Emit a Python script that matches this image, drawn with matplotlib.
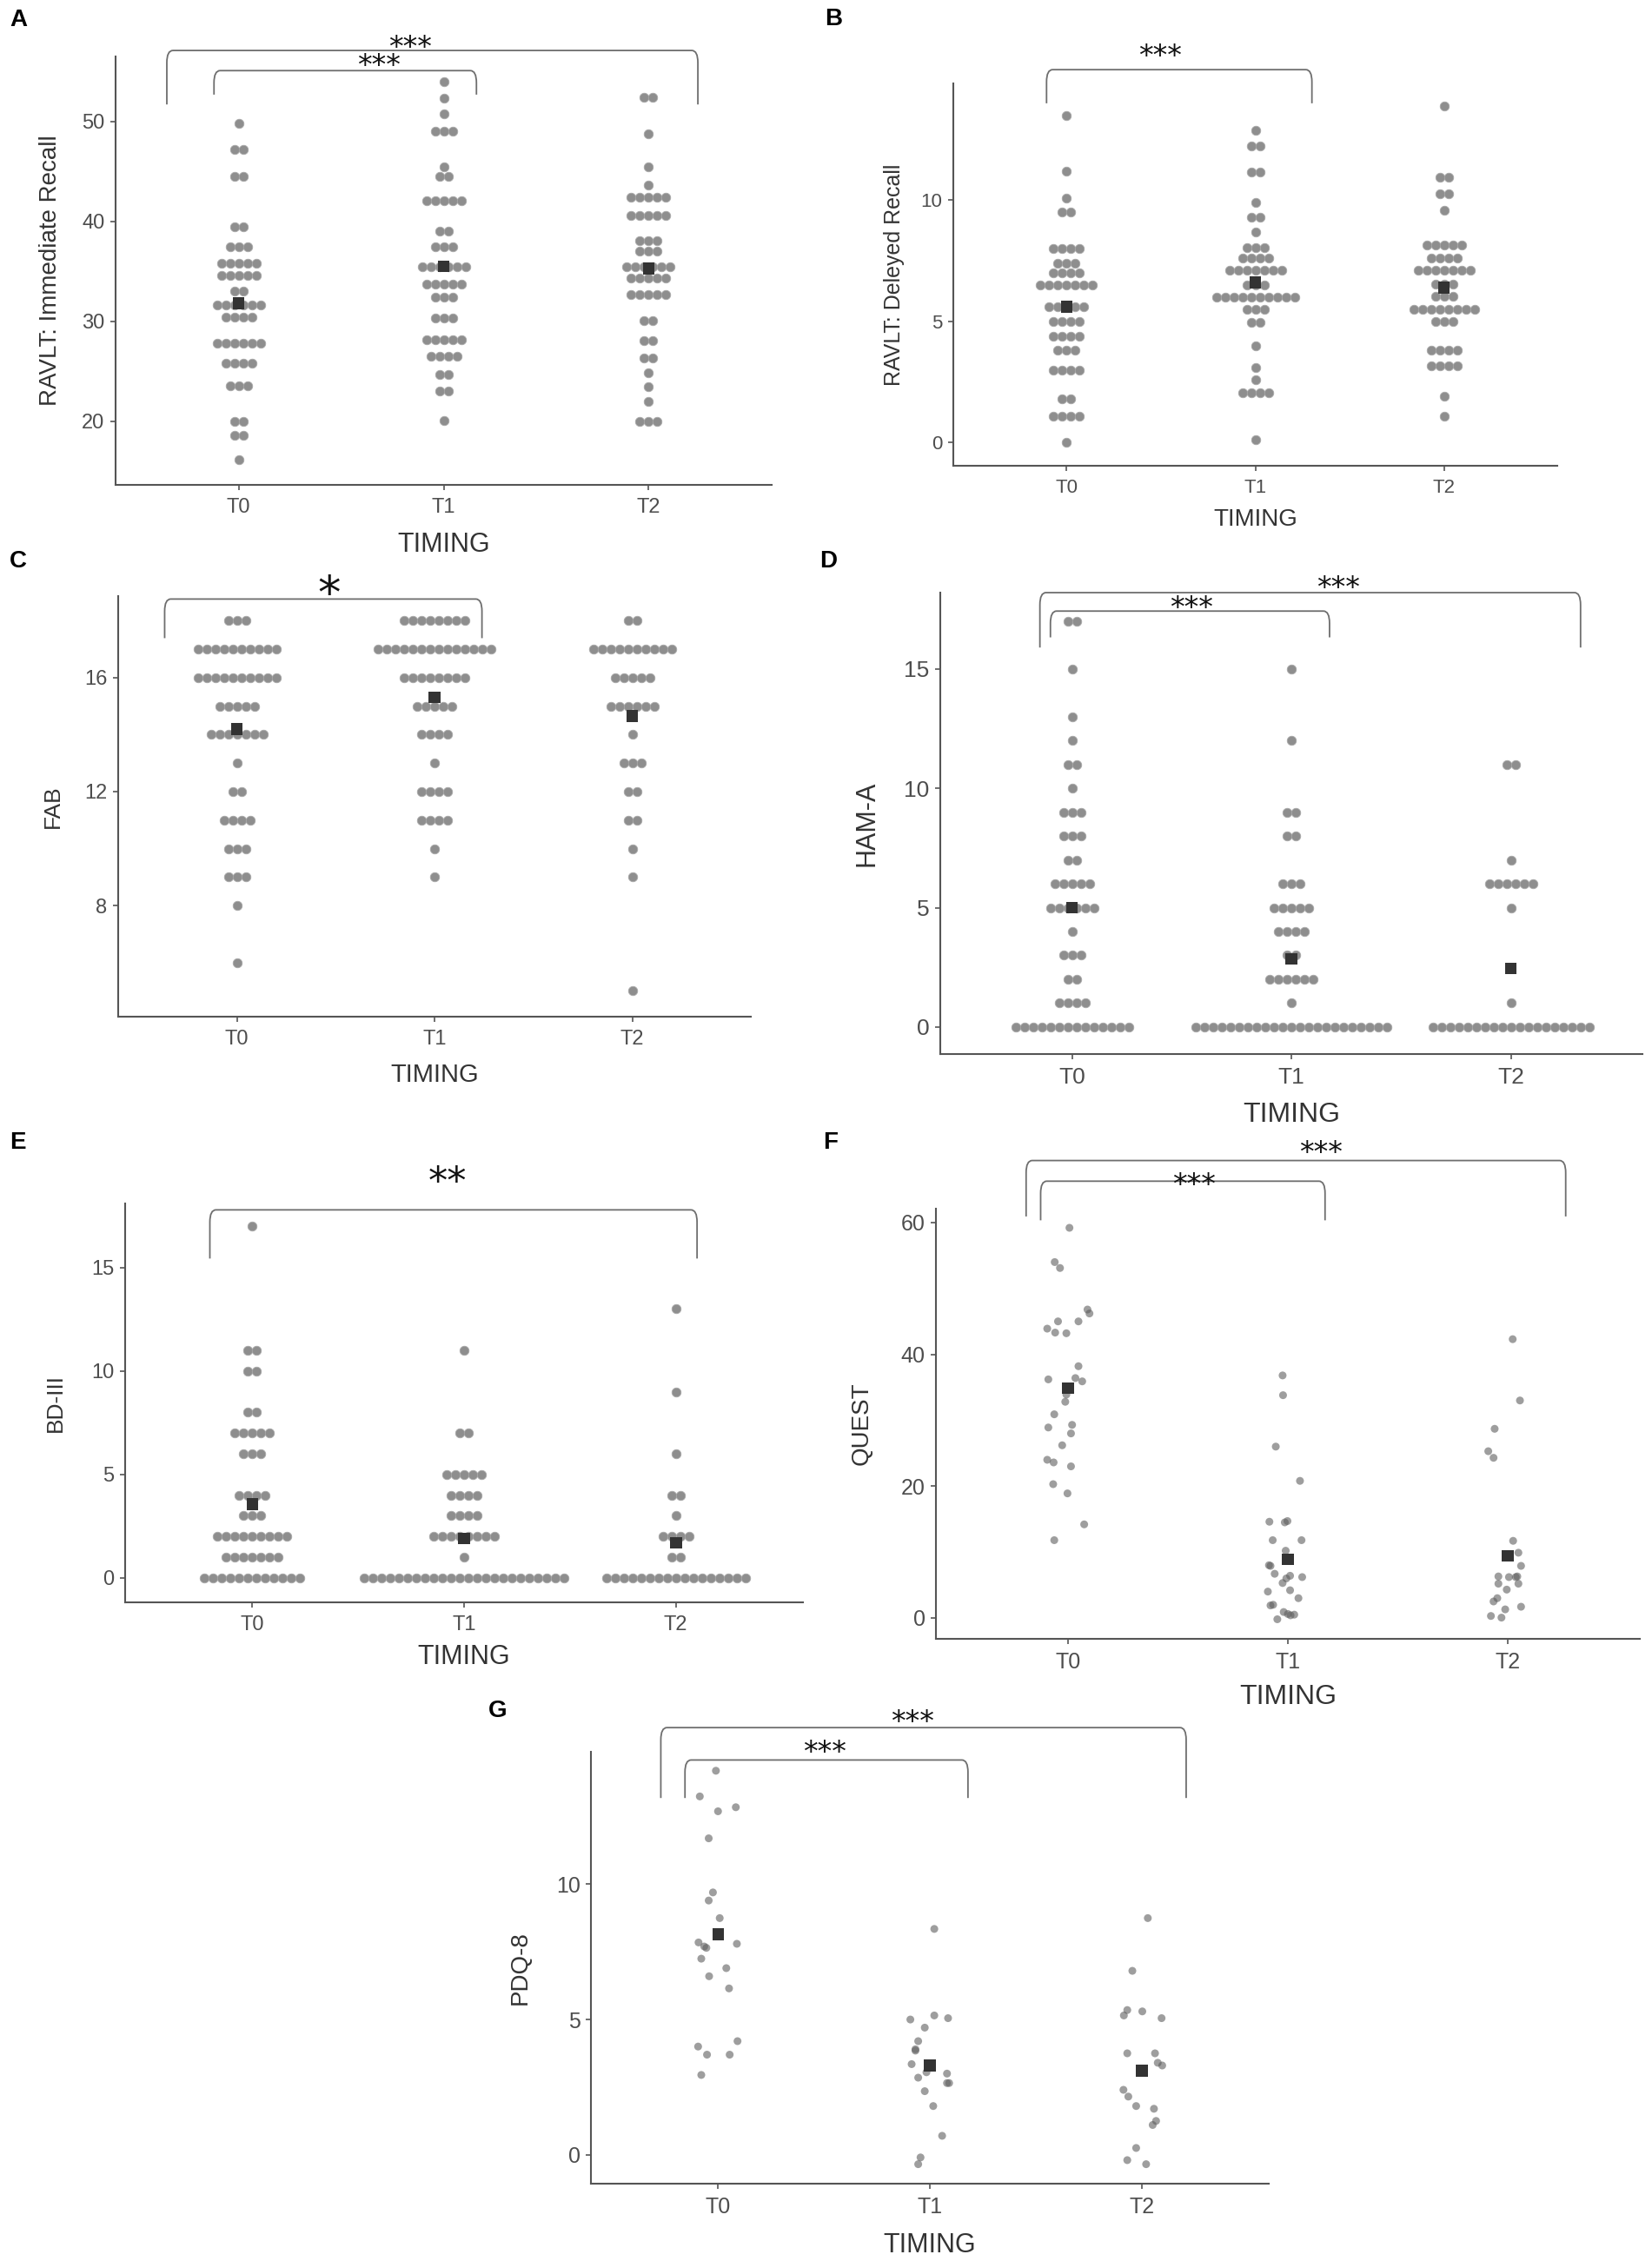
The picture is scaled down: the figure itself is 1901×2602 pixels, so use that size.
#!/usr/bin/env python3
"""
Seven-panel dot plots of neuropsychological scores across timings T0/T1/T2,
with group means (squares) and significance brackets.
"""

import numpy as np
import matplotlib
matplotlib.use("Agg")
import matplotlib.pyplot as plt
import matplotlib.transforms as mtransforms
from matplotlib.path import Path
from matplotlib.patches import PathPatch

GROUPS = ["T0", "T1", "T2"]

# ---- A: RAVLT immediate recall (stacked dot plot: level, count) ----
RAVLT_IR_LEVELS = [
    [49.8, 47.2, 44.5, 39.5, 37.5, 35.8, 34.6, 33.0, 31.6, 30.4, 27.8, 25.8, 23.6, 20.0, 18.6, 16.2],
    [54.0, 52.3, 50.8, 49.0, 45.5, 44.5, 42.1, 39.0, 37.5, 35.5, 33.7, 32.4, 30.3, 28.2, 26.5, 24.7, 23.0, 20.1],
    [52.4, 48.8, 45.5, 43.6, 42.4, 40.6, 38.1, 37.0, 35.5, 34.3, 32.7, 30.1, 28.1, 26.3, 24.9, 23.5, 22.0, 20.0],
]
RAVLT_IR_COUNTS = [
    [1, 2, 2, 2, 3, 5, 5, 2, 6, 4, 6, 4, 3, 2, 2, 1],
    [1, 1, 1, 3, 1, 2, 5, 2, 3, 6, 5, 3, 3, 5, 4, 2, 2, 1],
    [2, 1, 1, 1, 5, 5, 3, 3, 6, 5, 5, 2, 2, 2, 1, 1, 1, 3],
]
RAVLT_IR_MEANS = [31.8, 35.5, 35.3]

# ---- B: RAVLT delayed recall ----
RAVLT_DR_LEVELS = [
    [13.5, 11.2, 10.1, 9.5, 8.0, 7.4, 7.0, 6.5, 5.6, 5.0, 4.4, 3.8, 3.0, 1.8, 1.1, 0.0],
    [12.9, 12.25, 11.15, 9.9, 9.3, 8.7, 8.05, 7.6, 7.1, 6.5, 6.0, 5.5, 4.95, 4.0, 3.1, 2.6, 2.05, 0.1],
    [13.9, 10.95, 10.25, 9.6, 8.15, 7.6, 7.1, 6.55, 6.05, 5.5, 5.0, 3.8, 3.15, 1.9, 1.1],
]
RAVLT_DR_COUNTS = [
    [1, 1, 1, 2, 4, 3, 4, 7, 5, 4, 4, 3, 4, 2, 4, 1],
    [1, 2, 2, 1, 2, 1, 3, 4, 7, 3, 10, 3, 2, 1, 1, 1, 4, 1],
    [1, 2, 2, 1, 5, 4, 7, 3, 3, 8, 3, 4, 4, 1, 1],
]
RAVLT_DR_MEANS = [5.6, 6.6, 6.4]

# ---- C: FAB ----
FAB_LEVELS = [
    [18, 17, 16, 15, 14, 13, 12, 11, 10, 9, 8, 6],
    [18, 17, 16, 15, 14, 13, 12, 11, 10, 9],
    [18, 17, 16, 15, 14, 13, 12, 11, 10, 9, 5],
]
FAB_COUNTS = [
    [3, 10, 10, 5, 7, 1, 2, 4, 3, 3, 1, 1],
    [8, 14, 8, 5, 4, 1, 4, 4, 1, 1],
    [2, 10, 5, 6, 1, 3, 2, 2, 1, 1, 1],
]
FAB_MEANS = [14.2, 15.3, 14.65]

# ---- D: HAM-A ----
HAMA_LEVELS = [
    [17, 15, 13, 12, 11, 10, 9, 8, 7, 6, 5, 4, 3, 2, 1, 0],
    [15, 12, 9, 8, 6, 5, 4, 3, 2, 1, 0],
    [11, 7, 6, 5, 1, 0],
]
HAMA_COUNTS = [
    [2, 1, 1, 1, 2, 1, 3, 3, 2, 5, 6, 1, 3, 2, 4, 14],
    [1, 1, 2, 2, 3, 5, 4, 2, 6, 1, 23],
    [2, 1, 6, 1, 1, 19],
]
HAMA_MEANS = [5.0, 2.85, 2.45]

# ---- E: BDI-II ----
BDI_LEVELS = [
    [17, 11, 10, 8, 7, 6, 4, 3, 2, 1, 0],
    [11, 7, 5, 4, 3, 2, 1, 0],
    [13, 9, 6, 4, 3, 2, 1, 0],
]
BDI_COUNTS = [
    [1, 2, 2, 2, 5, 3, 4, 3, 9, 7, 12],
    [1, 2, 5, 4, 4, 8, 1, 24],
    [1, 1, 1, 2, 1, 4, 2, 17],
]
BDI_MEANS = [3.55, 1.9, 1.68]

# ---- F: QUEST (jittered points: value and horizontal jitter) ----
QUEST_VALUES = [
    [59.2, 54.0, 53.1, 46.8, 46.2, 45.0, 45.0, 43.9, 43.3, 43.2, 38.2, 36.2, 36.4, 35.9,
     33.9, 32.8, 30.9, 29.3, 28.9, 28.0, 26.2, 24.0, 23.6, 23.0, 20.3, 18.9, 14.2, 11.8],
    [36.8, 33.8, 26.0, 20.8, 14.6, 14.5, 14.7, 11.8, 11.8, 10.2, 8.0, 7.9, 6.7, 6.4,
     6.2, 5.3, 6.0, 4.0, 4.2, 3.0, 1.9, 2.0, 0.9, 0.4, 0.5, -0.2, 0.6],
    [42.3, 33.0, 28.7, 25.3, 24.3, 11.7, 9.9, 7.9, 6.3, 6.2, 6.3, 5.2, 5.2, 4.3,
     3.0, 2.5, 1.3, 1.7, 0.3, 0.05, 6.2],
]
QUEST_JITTER = [
    [0.007, -0.06, -0.036, 0.089, 0.098, -0.045, 0.048, -0.094, -0.058, -0.007, 0.048, -0.089, 0.034, 0.065,
     -0.007, -0.012, -0.062, 0.019, -0.089, 0.014, -0.026, -0.094, -0.065, 0.014, -0.067, -0.002, 0.074, -0.062],
    [-0.024, -0.022, -0.055, 0.055, -0.084, -0.014, -0.002, -0.069, 0.062, -0.01, -0.086, -0.079, -0.06, 0.01,
     0.065, -0.024, -0.007, -0.091, 0.01, 0.048, -0.079, -0.067, -0.019, 0.012, 0.029, -0.048, 0.0],
    [0.022, 0.055, -0.06, -0.089, -0.065, 0.024, 0.048, 0.06, -0.043, 0.005, 0.043, -0.043, 0.048, -0.005,
     -0.048, -0.065, -0.012, 0.06, -0.077, -0.029, 0.036],
]
QUEST_MEANS = [34.9, 8.9, 9.4]

# ---- G: PDQ-8 ----
PDQ8_VALUES = [
    [14.2, 13.25, 12.7, 12.85, 11.7, 9.7, 9.4, 8.75, 7.85, 7.65, 7.8, 7.25, 6.9, 6.6,
     6.15, 4.2, 4.0, 3.7, 3.7, 2.95, 7.7],
    [8.35, 5.0, 5.15, 5.05, 4.7, 4.2, 3.9, 3.85, 3.35, 3.05, 3.0, 2.85, 2.65, 2.65,
     2.35, 1.8, 0.7, -0.1, -0.35],
    [8.75, 6.8, 5.35, 5.15, 5.3, 5.05, 3.75, 3.75, 3.4, 3.3, 2.4, 2.15, 1.8, 1.7,
     1.25, 1.1, 0.25, -0.2, -0.35],
]
PDQ8_JITTER = [
    [-0.01, -0.086, 0.0, 0.084, -0.044, -0.024, -0.044, 0.008, -0.092, -0.055, 0.089, -0.079, 0.039, -0.042,
     0.052, 0.092, -0.094, -0.052, 0.055, -0.079, -0.065],
    [0.021, -0.092, 0.021, 0.086, -0.024, -0.055, -0.068, -0.068, -0.086, -0.016, 0.081, -0.055, 0.081, 0.091,
     -0.024, 0.016, 0.058, -0.044, -0.055],
    [0.029, -0.044, -0.068, -0.084, 0.003, 0.094, -0.068, 0.063, 0.076, 0.097, -0.086, -0.063, -0.026, 0.058,
     0.068, 0.052, -0.026, -0.068, 0.021],
]
PDQ8_MEANS = [8.15, 3.3, 3.1]

# ---- layout (figure pixels) ----
W, H, DPI = 1901, 2602, 100
DOT = "#8e8e8e"
DOT_EDGE = "#a8a8a8"
MEAN_C = "#333333"
AXIS_C = "#555555"
TICK_TXT = "#4d4d4d"
TITLE_C = "#333333"
BRACKET_C = "#6e6e6e"

PANELS = [
    dict(tag="A", ylabel="RAVLT: Immediate Recall", kind="stack",
         levels=RAVLT_IR_LEVELS, counts=RAVLT_IR_COUNTS, means=RAVLT_IR_MEANS,
         rect=(133, 65, 888, 558), ylim=(13.65, 56.5), yticks=[20, 30, 40, 50],
         tick_fs=17, ylab_fs=20, xlab_fs=22, ylab_x=58, xlab_y=627, tag_xy=(21, 23),
         brackets=[(-0.35, 2.24, 1.014, 0.888, "***", 0.837, 1.037, 24),
                   (-0.12, 1.16, 0.967, 0.911, "***", 0.684, 0.996, 24)]),
    dict(tag="B", ylabel="RAVLT: Deleyed Recall", kind="stack",
         levels=RAVLT_DR_LEVELS, counts=RAVLT_DR_COUNTS, means=RAVLT_DR_MEANS,
         rect=(1097, 96, 1792, 536), ylim=(-0.96, 14.82), yticks=[0, 5, 10],
         tick_fs=16, ylab_fs=18, xlab_fs=20, ylab_x=1029, xlab_y=598, tag_xy=(959, 22),
         brackets=[(-0.106, 1.30, 1.036, 0.948, "***", 0.497, 1.09, 24)]),
    dict(tag="C", ylabel="FAB", kind="stack",
         levels=FAB_LEVELS, counts=FAB_COUNTS, means=FAB_MEANS,
         rect=(136, 686, 864, 1170), ylim=(4.1, 18.86), yticks=[8, 12, 16],
         tick_fs=17, ylab_fs=19, xlab_fs=21, ylab_x=61, xlab_y=1237, tag_xy=(21, 646),
         brackets=[(-0.365, 1.24, 0.993, 0.90, "*", 0.466, 1.033, 38)]),
    dict(tag="D", ylabel="HAM-A", kind="stack",
         levels=HAMA_LEVELS, counts=HAMA_COUNTS, means=HAMA_MEANS,
         rect=(1082, 682, 1890, 1213), ylim=(-1.13, 18.19), yticks=[0, 5, 10, 15],
         tick_fs=19, ylab_fs=22, xlab_fs=23, ylab_x=997, xlab_y=1283, tag_xy=(953, 646),
         brackets=[(-0.146, 2.318, 1.0, 0.881, "***", 1.213, 1.026, 24),
                   (-0.098, 1.174, 0.96, 0.903, "***", 0.546, 0.983, 24)]),
    dict(tag="E", ylabel="BD-III", kind="stack",
         levels=BDI_LEVELS, counts=BDI_COUNTS, means=BDI_MEANS,
         rect=(144, 1385, 924, 1844), ylim=(-1.19, 18.1), yticks=[0, 5, 10, 15],
         tick_fs=17, ylab_fs=19, xlab_fs=22, ylab_x=64, xlab_y=1907, tag_xy=(20, 1315),
         brackets=[(-0.2, 2.1, 0.984, 0.862, "**", 0.923, 1.078, 32)]),
    dict(tag="F", ylabel="QUEST", kind="jitter",
         values=QUEST_VALUES, jitter=QUEST_JITTER, means=QUEST_MEANS,
         rect=(1077, 1391, 1887, 1886), ylim=(-3.17, 62.1), yticks=[0, 20, 40, 60],
         tick_fs=18, ylab_fs=20, xlab_fs=23, ylab_x=992, xlab_y=1953, tag_xy=(956, 1315),
         brackets=[(-0.19, 2.263, 1.112, 0.982, "***", 1.149, 1.146, 24),
                   (-0.124, 1.169, 1.064, 0.973, "***", 0.575, 1.073, 24)]),
    dict(tag="G", ylabel="PDQ-8", kind="jitter",
         values=PDQ8_VALUES, jitter=PDQ8_JITTER, means=PDQ8_MEANS,
         rect=(680, 2016, 1460, 2513), ylim=(-1.07, 14.9), yticks=[0, 5, 10],
         tick_fs=18, ylab_fs=20, xlab_fs=22, ylab_x=599, xlab_y=2584, tag_xy=(573, 1969),
         brackets=[(-0.27, 2.21, 1.056, 0.893, "***", 0.918, 1.086, 24),
                   (-0.156, 1.18, 0.981, 0.893, "***", 0.502, 1.015, 24)]),
]

XLIM = (-0.6, 2.6)
DOT_STEP_PX = 10.0
DOT_SIZE = (10.5 * 72 / DPI) ** 2
JIT_SIZE = (9.0 * 72 / DPI) ** 2
MEAN_SIZE = (13.5 * 72 / DPI) ** 2


def draw_bracket(ax, fig, x0, x1, top, leg, rx, ry):
    trans = mtransforms.blended_transform_factory(ax.transData, ax.transAxes)
    verts = [(x0, leg), (x0, top - ry), (x0, top), (x0 + rx, top),
             (x1 - rx, top), (x1, top), (x1, top - ry), (x1, leg)]
    codes = [Path.MOVETO, Path.LINETO, Path.CURVE3, Path.CURVE3,
             Path.LINETO, Path.CURVE3, Path.CURVE3, Path.LINETO]
    patch = PathPatch(Path(verts, codes), fill=False, edgecolor=BRACKET_C,
                      lw=1.3, transform=trans, clip_on=False)
    ax.add_patch(patch)


def main() -> None:
    plt.rcParams["font.family"] = ["Liberation Sans", "DejaVu Sans"]
    fig = plt.figure(figsize=(W / DPI, H / DPI), dpi=DPI)

    for p in PANELS:
        left, top, right, bottom = p["rect"]
        wpx, hpx = right - left, bottom - top
        ax = fig.add_axes([left / W, 1 - bottom / H, wpx / W, hpx / H])
        cat_px = wpx / (XLIM[1] - XLIM[0])

        if p["kind"] == "stack":
            step = DOT_STEP_PX / cat_px
            for gi in range(len(GROUPS)):
                xs, ys = [], []
                for v, n in zip(p["levels"][gi], p["counts"][gi]):
                    offs = (np.arange(n) - (n - 1) / 2) * step
                    xs.extend(gi + offs)
                    ys.extend([v] * n)
                ax.scatter(xs, ys, s=DOT_SIZE, c=DOT, edgecolors=DOT_EDGE,
                           linewidths=0.6, zorder=2)
        else:
            for gi in range(len(GROUPS)):
                xs = gi + np.asarray(p["jitter"][gi])
                ax.scatter(xs, p["values"][gi], s=JIT_SIZE, c="#5e5e5e",
                           alpha=0.6, edgecolors="none", zorder=2)

        ax.scatter(range(len(GROUPS)), p["means"], marker="s", s=MEAN_SIZE,
                   c=MEAN_C, edgecolors="none", zorder=3)

        ax.set_xlim(*XLIM)
        ax.set_ylim(*p["ylim"])
        ax.set_xticks(range(len(GROUPS)))
        ax.set_xticklabels(GROUPS)
        ax.set_yticks(p["yticks"])
        for s in ("top", "right"):
            ax.spines[s].set_visible(False)
        for s in ("left", "bottom"):
            ax.spines[s].set_color(AXIS_C)
            ax.spines[s].set_linewidth(1.5)
        ax.tick_params(axis="both", colors=AXIS_C, length=4, width=1.2,
                       labelsize=p["tick_fs"], labelcolor=TICK_TXT)
        ax.tick_params(axis="x", pad=7)
        ax.tick_params(axis="y", pad=5)

        ax.set_xlabel("TIMING", fontsize=p["xlab_fs"], color=TITLE_C)
        ax.xaxis.set_label_coords(0.5, -(p["xlab_y"] - bottom) / hpx)
        ax.xaxis.label.set_va("center")
        ax.set_ylabel(p["ylabel"], fontsize=p["ylab_fs"], color=TITLE_C)
        ax.yaxis.set_label_coords((p["ylab_x"] - left) / wpx, 0.5)
        ax.yaxis.label.set_va("center")

        rx, ry = 7.0 / cat_px, 14.0 / hpx
        for x0, x1, btop, bleg, txt, tx, ty, fs in p["brackets"]:
            draw_bracket(ax, fig, x0, x1, btop, bleg, rx, ry)
            base = mtransforms.blended_transform_factory(ax.transData, ax.transAxes)
            trans = mtransforms.offset_copy(base, fig=fig, x=0, y=-0.56 * fs, units="points")
            ax.text(tx, ty, txt, fontsize=fs, family="DejaVu Sans", color="#111111",
                    ha="center", va="baseline", transform=trans, clip_on=False)

        tx, ty = p["tag_xy"]
        fig.text(tx / W, 1 - ty / H, p["tag"], fontsize=20, fontweight="bold",
                 ha="center", va="center", color="black")

    fig.savefig("out.png", dpi=DPI, facecolor="white")
    plt.close(fig)


if __name__ == "__main__":
    main()
